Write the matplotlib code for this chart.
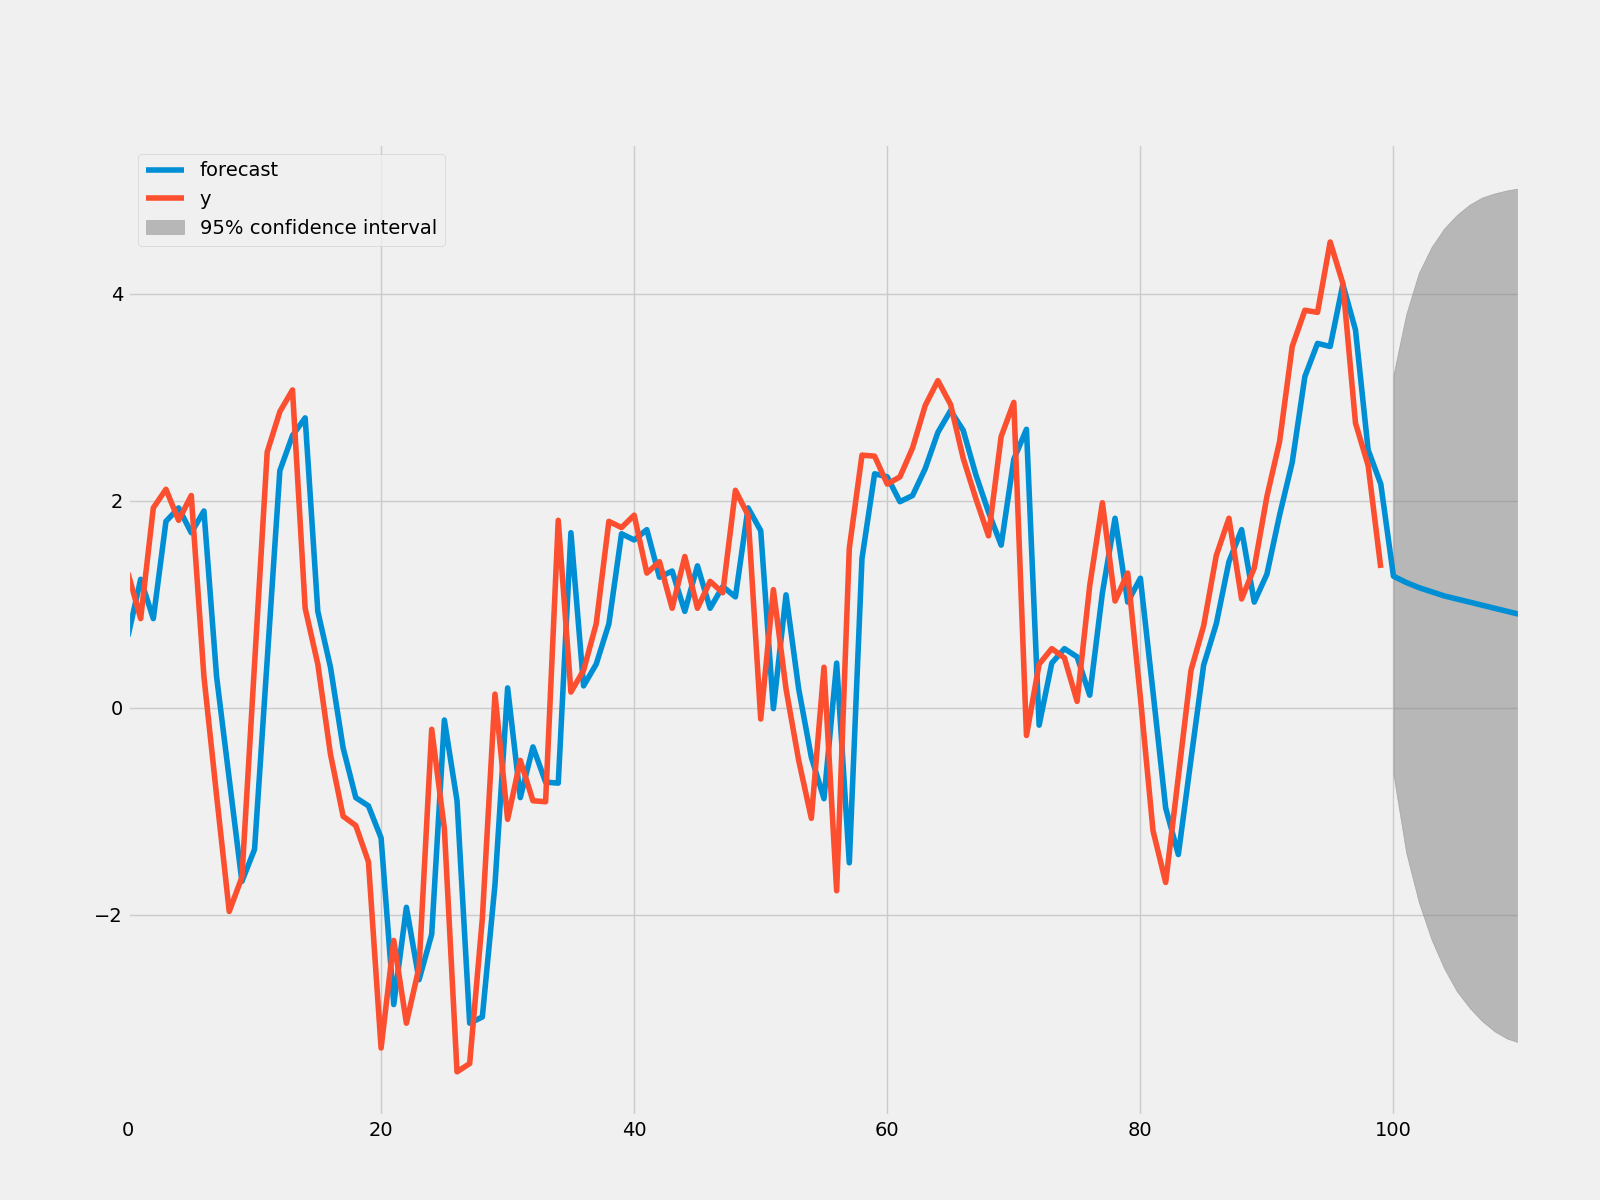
import matplotlib
matplotlib.use("Agg")
import matplotlib.pyplot as plt
import numpy as np

# ---- data ----
forecast = [0.69, 1.24, 0.86, 1.80, 1.93, 1.69, 1.90, 0.30, -0.69, -1.68,
            -1.37, 0.46, 2.29, 2.63, 2.80, 0.93, 0.39, -0.39, -0.87, -0.95,
            -1.26, -2.87, -1.93, -2.63, -2.19, -0.12, -0.90, -3.05, -2.99, -1.71,
            0.19, -0.87, -0.38, -0.72, -0.73, 1.69, 0.21, 0.42, 0.81, 1.68,
            1.62, 1.72, 1.26, 1.32, 0.93, 1.37, 0.96, 1.17, 1.07, 1.93,
            1.71, -0.01, 1.09, 0.18, -0.48, -0.88, 0.43, -1.50, 1.44, 2.26,
            2.23, 1.99, 2.05, 2.31, 2.66, 2.87, 2.68, 2.25, 1.89, 1.57,
            2.40, 2.69, -0.17, 0.43, 0.57, 0.49, 0.12, 1.11, 1.83, 1.02,
            1.25, 0.15, -0.97, -1.42, -0.50, 0.41, 0.81, 1.41, 1.72, 1.02,
            1.29, 1.86, 2.37, 3.20, 3.52, 3.49, 4.09, 3.65, 2.49, 2.16,
            1.27, 1.21, 1.16, 1.12, 1.08, 1.05, 1.02, 0.99, 0.96, 0.93, 0.90]

y = [1.30, 0.86, 1.93, 2.11, 1.81, 2.05, 0.30, -0.85, -1.97, -1.64,
     0.42, 2.47, 2.86, 3.07, 0.96, 0.42, -0.45, -1.05, -1.14, -1.49,
     -3.29, -2.25, -3.05, -2.51, -0.21, -1.17, -3.52, -3.44, -2.04, 0.13,
     -1.08, -0.51, -0.90, -0.91, 1.81, 0.15, 0.36, 0.81, 1.80, 1.74,
     1.86, 1.30, 1.41, 0.96, 1.46, 0.96, 1.22, 1.11, 2.10, 1.86,
     -0.11, 1.14, 0.18, -0.51, -1.07, 0.39, -1.77, 1.54, 2.44, 2.43,
     2.16, 2.23, 2.51, 2.92, 3.16, 2.93, 2.41, 2.02, 1.66, 2.62,
     2.95, -0.27, 0.42, 0.57, 0.48, 0.06, 1.18, 1.98, 1.03, 1.30,
     0.10, -1.19, -1.69, -0.67, 0.36, 0.79, 1.47, 1.83, 1.05, 1.35,
     2.04, 2.57, 3.49, 3.84, 3.82, 4.50, 4.10, 2.75, 2.34, 1.35]

ci_start = 100
ci_upper = [3.22, 3.80, 4.20, 4.45, 4.63, 4.76, 4.86, 4.93, 4.97, 5.00, 5.02]
ci_lower = [-0.65, -1.40, -1.88, -2.24, -2.52, -2.74, -2.90, -3.03, -3.13, -3.20, -3.24]

plt.style.use("fivethirtyeight")
fig, ax = plt.subplots(figsize=(16, 12), dpi=100)

x_fc = np.arange(len(forecast))
x_y = np.arange(len(y))
x_ci = np.arange(ci_start, ci_start + len(ci_upper))

ax.plot(x_fc, forecast, label="forecast")
ax.plot(x_y, y, label="y")
ax.fill_between(x_ci, ci_lower, ci_upper, color="gray", alpha=0.5,
                label="95% confidence interval")
ax.set_xlim(0, 110)
ax.legend(loc="upper left")

fig.savefig("out.png", dpi=100, facecolor=fig.get_facecolor())
